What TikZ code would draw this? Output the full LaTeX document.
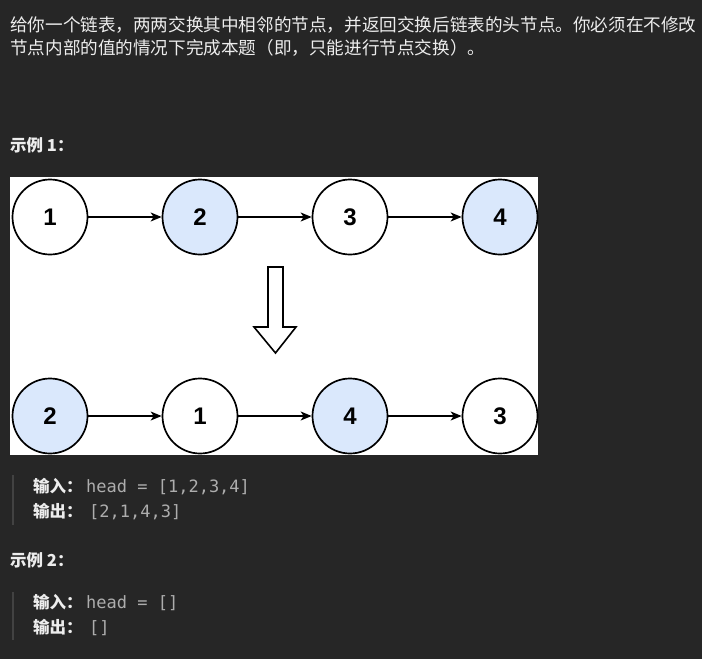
\documentclass[tikz,border=0pt]{standalone}
\usepackage{fontspec}
\setmainfont{Liberation Sans}
\newfontfamily\cjk{Noto Sans CJK SC}
\newfontfamily\monof{DejaVu Sans Mono}
\usetikzlibrary{arrows.meta}
\definecolor{bgc}{HTML}{262626}
\definecolor{txt}{HTML}{EDEDED}
\definecolor{codegray}{HTML}{ADADAD}
\definecolor{barc}{HTML}{424242}
\definecolor{nodeblue}{HTML}{DAE8FC}
\tikzset{
  para/.style={anchor=base west, inner sep=0pt, text=txt, font=\cjk\fontsize{17.6}{17.6}\selectfont},
  head/.style={anchor=base west, inner sep=0pt, text=txt, font=\cjk\bfseries\fontsize{16.5}{16.5}\selectfont},
  lab/.style={anchor=base west, inner sep=0pt, text=txt, font=\cjk\bfseries\fontsize{16.5}{16.5}\selectfont},
  code/.style={anchor=base west, inner sep=0pt, text=codegray, font=\monof\fontsize{17}{17}\selectfont},
  lnode/.style={circle, draw=black, line width=1.7pt, minimum size=75pt, inner sep=0pt, fill=white, font=\bfseries\fontsize{24}{24}\selectfont},
  bnode/.style={lnode, fill=nodeblue},
  link/.style={line width=1.5pt, -{Stealth[length=11pt,width=9pt,inset=3pt]}},
  bar/.style={line width=2pt, draw=barc}
}
\begin{document}
\begin{tikzpicture}[x=1pt,y=-1pt]
\fill[bgc] (0,0) rectangle (702,659);
\useasboundingbox (0,0) rectangle (702,659);
% paragraph
\node[para] (p1) at (10,31) {给你一个链表，两两交换其中相邻的节点，并返回交换后链表的头节点。你必须在不修改};
\node[para] (p2) at (10,54) {节点内部的值的情况下完成本题（即，只能进行节点交换）。};
% example 1
\node[head] (h1) at (10,151) {示例 1：};
\fill[white] (10,177) rectangle (538,455);
\node[lnode] (a1) at (50,217) {1};
\node[bnode] (a2) at (200,217) {2};
\node[lnode] (a3) at (350,217) {3};
\node[bnode] (a4) at (500,217) {4};
\draw[link] (a1) -- (a2);
\draw[link] (a2) -- (a3);
\draw[link] (a3) -- (a4);
\draw[line width=1.6pt, line join=miter, fill=white] (268,267) -- (283,267) -- (283,327) -- (296,327) -- (275.5,353) -- (254,327) -- (268,327) -- cycle;
\node[bnode] (b1) at (50,416) {2};
\node[lnode] (b2) at (200,416) {1};
\node[bnode] (b3) at (350,416) {4};
\node[lnode] (b4) at (500,416) {3};
\draw[link] (b1) -- (b2);
\draw[link] (b2) -- (b3);
\draw[link] (b3) -- (b4);
% block 1
\coordinate (q1t) at (13,475);
\coordinate (q1b) at (13,525);
\draw[bar] (q1t) -- (q1b);
\node[lab] (i1) at (33,492) {输入：};
\node[code] (c1) at (86,492) {head = [1,2,3,4]};
\node[lab] (o1) at (33,517) {输出：};
\node[code] (c2) at (89,517) {[2,1,4,3]};
% example 2
\node[head] (h2) at (10,566) {示例 2：};
\coordinate (q2t) at (13,592);
\coordinate (q2b) at (13,640);
\draw[bar] (q2t) -- (q2b);
\node[lab] (i2) at (33,608) {输入：};
\node[code] (c3) at (86,608) {head = []};
\node[lab] (o2) at (33,633) {输出：};
\node[code] (c4) at (89,633) {[]};
\end{tikzpicture}
\end{document}
